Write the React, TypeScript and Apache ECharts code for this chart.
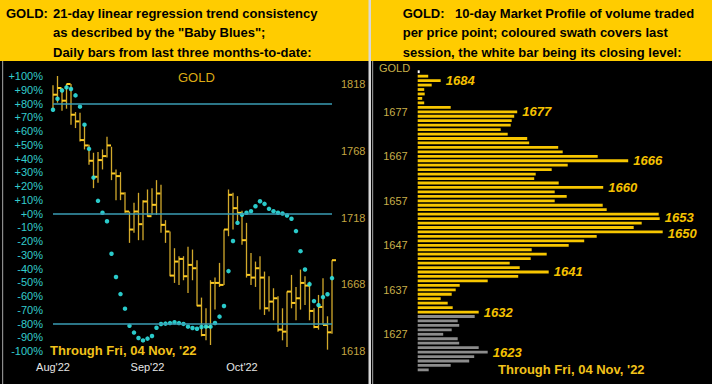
import React, { useEffect, useRef } from "react";
import * as echarts from "echarts";

// ---------- Left panel: daily bars (price) + "Baby Blues" trend consistency (%) ----------
const MONTH_TICKS: { index: number; label: string }[] = [
  { index: 0, label: "Aug'22" },
  { index: 21, label: "Sep'22" },
  { index: 42, label: "Oct'22" },
];

const HIGH = [
  1817, 1824, 1815, 1818, 1818, 1797, 1796.5, 1787.5, 1772.5, 1766.5,
  1767, 1769, 1778.5, 1771, 1754, 1752, 1737, 1722.5, 1729, 1736.5,
  1731, 1739, 1740, 1746, 1742.5, 1716, 1707.5, 1695, 1689, 1689,
  1696, 1694, 1686, 1658, 1650, 1671, 1673, 1684, 1709, 1739,
  1736.5, 1734, 1723, 1714, 1691.5, 1685, 1689, 1677.5, 1674, 1665,
  1659, 1650, 1662.5, 1675, 1666, 1679, 1674, 1670, 1650, 1660,
  1672.5, 1644, 1686,
];
const LOW = [
  1799, 1804, 1798, 1799.5, 1787.5, 1785, 1775, 1769, 1757.5, 1740,
  1744, 1754, 1763, 1746, 1731, 1731, 1721.5, 1699, 1706.5, 1701,
  1701, 1718.5, 1720, 1720, 1706.5, 1699, 1674, 1669, 1667.5, 1671,
  1661.5, 1671, 1651.5, 1629, 1626, 1622.5, 1649, 1666, 1667.5, 1704,
  1709, 1715, 1697.5, 1673, 1667.5, 1666, 1649, 1645, 1647.5, 1641,
  1632.5, 1626, 1621, 1650, 1641, 1649, 1652.5, 1641, 1635, 1634,
  1637.5, 1619, 1631,
];
const CLOSE = [
  1810, 1815, 1805.5, 1818, 1795, 1790, 1776, 1772, 1760.5, 1748.5,
  1761, 1764, 1772, 1751, 1749, 1736, 1722.5, 1709, 1722.5, 1713,
  1730, 1719, 1727.5, 1736, 1712.5, 1707.5, 1674.5, 1685, 1687, 1674,
  1682.5, 1680, 1652, 1630, 1636, 1669, 1669, 1667.5, 1709, 1735,
  1725, 1721.5, 1701, 1675, 1673, 1680, 1673, 1650, 1655, 1657.5,
  1634, 1632.5, 1662.5, 1654, 1657.5, 1669, 1667, 1648, 1636, 1651,
  1637.5, 1632, 1686,
];
const TREND = [
  75.5, 83.5, 89.5, 91.7, 90.5, 85.9, 77.7, 64.6, 47, 26.1,
  9.2, 0.5, -5.6, -29.3, -46.2, -58.6, -69.2, -81.7, -86.6, -90.5,
  -92.3, -91, -89.1, -83.1, -80.4, -80.1, -79.7, -79.1, -79.7, -80.3,
  -82.3, -83.3, -83.8, -82.5, -82.3, -82.3, -79.6, -75, -67.3, -41.9,
  -20, -6.8, -0.9, 0.5, 1.7, 5.3, 8.9, 7, 3.4, 1.7,
  0.5, 0, -1.5, -3.8, -12.8, -27.4, -40.7, -51.5, -63.7, -66.6,
  -60.8, -58.7, -47,
];
const TREND_LEVELS = [80, 0, -80];
const PRICE_BASE = 1618; // lowest price tick label
const PRICE_TOP = 1824;

// ---------- Right panel: 10-day market profile ----------
const PROFILE_TOP = 1686; // white bar: last session's close
const PROFILE_VOLUME = [
  2, 10.5, 23, 14, 6.5, 7, 4.5, 6.5, 33, 99.5,
  96.5, 94, 93, 83, 90, 109.5, 111.5, 140.5, 145, 180,
  210.5, 150, 134, 118, 116.5, 141, 185.5, 137, 149, 137,
  185, 189, 241, 242, 224, 216, 245, 179, 166.5, 151,
  114, 129, 113, 92, 102, 131, 100.5, 70, 42, 38,
  34, 23, 30, 35, 61, 57, 40, 41.5, 34, 25.5,
  40, 41.5, 61, 70, 56.5, 51.5, 33, 11,
];
const PROFILE_PRICES = PROFILE_VOLUME.map((_, i) => PROFILE_TOP - i);
const SESSION_LOW = 1632;
const SESSION_CLOSE = 1686;
const PEAK_LABELS = [1684, 1677, 1666, 1660, 1653, 1650, 1641, 1632, 1623];
const PEAK_NUDGE: Record<number, number> = { 1653: -1.5, 1650: 1.5 };

const DAYS = HIGH.map((_, i) => String(i));

const FONT = '"Liberation Sans", Arial, sans-serif';
const HEADER_FONT = 'bold 13px "Liberation Sans", Arial, sans-serif';

function txt(text: string, x: number, y: number, font: string, fill: string) {
  return {
    type: "text",
    x,
    y,
    silent: true,
    style: {
      text,
      font,
      fill,
      align: "left",
      textAlign: "left",
      verticalAlign: "middle",
      textVerticalAlign: "middle",
    },
  };
}

function buildOption() {
  const barData = HIGH.map((h, i) => [i, h - PRICE_BASE, LOW[i] - PRICE_BASE, CLOSE[i] - PRICE_BASE]);
  const monthMap: Record<number, string> = {};
  MONTH_TICKS.forEach((m) => (monthMap[m.index] = m.label));

  const profileData = PROFILE_PRICES.map((p, i) => {
    const color = p === SESSION_CLOSE ? "#ffffff" : p >= SESSION_LOW ? "#f7c600" : "#8c8c8c";
    const item: any = { value: PROFILE_VOLUME[i], itemStyle: { color } };
    if (PEAK_LABELS.includes(p)) {
      item.label = {
        show: true,
        position: "right",
        distance: 5,
        offset: [0, PEAK_NUDGE[p] ?? 0],
        formatter: String(p),
        color: "#f5c200",
        fontSize: 13,
        lineHeight: 11,
        fontWeight: "bold",
        fontStyle: "italic",
        fontFamily: FONT,
      };
    }
    return item;
  });

  const graphic: any[] = [
    { type: "rect", silent: true, shape: { x: 0, y: 0, width: 369, height: 61 }, style: { fill: "#ffcc00" } },
    { type: "rect", silent: true, shape: { x: 371, y: 0, width: 341, height: 61 }, style: { fill: "#ffcc00" } },
    { type: "rect", silent: true, shape: { x: 368.5, y: 0, width: 2.5, height: 384 }, style: { fill: "#d8d8d8" } },
    { type: "rect", silent: true, shape: { x: 2, y: 61, width: 1.2, height: 323 }, style: { fill: "#8c8c8c" } },
    { type: "rect", silent: true, shape: { x: 372, y: 61, width: 1.2, height: 323 }, style: { fill: "#8c8c8c" } },
    txt("GOLD:", 6, 13, HEADER_FONT, "#000"),
    txt("21-day linear regression trend consistency", 53, 13, HEADER_FONT, "#000"),
    txt('as described by the "Baby Blues";', 53, 32.5, HEADER_FONT, "#000"),
    txt("Daily bars from last three months-to-date:", 53, 52, HEADER_FONT, "#000"),
    txt("GOLD:", 402.7, 13, HEADER_FONT, "#000"),
    txt("10-day Market Profile of volume traded", 455, 13, HEADER_FONT, "#000"),
    txt("per price point; coloured swath covers last", 402.7, 32.5, HEADER_FONT, "#000"),
    txt("session, the white bar being its closing level:", 402.7, 52, HEADER_FONT, "#000"),
    txt("GOLD", 178, 77.7, `13px ${FONT}`, "#dcaa14"),
    txt("Through Fri, 04 Nov, '22", 50, 350, `bold 13px ${FONT}`, "#f2c21a"),
    txt("GOLD", 379, 68.3, `11px ${FONT}`, "#c8b04a"),
    txt("Through Fri, 04 Nov, '22", 498, 369, `bold 13px ${FONT}`, "#f2c21a"),
  ];

  return {
    animation: false,
    backgroundColor: "#000000",
    graphic,
    grid: [
      { left: 53, top: 76, width: 279, height: 275, outerBoundsMode: "none", containLabel: false },
      { left: 417.7, top: 69.5, width: 294.3, height: 302.6, outerBoundsMode: "none", containLabel: false },
    ],
    xAxis: [
      {
        type: "category",
        gridIndex: 0,
        data: DAYS,
        boundaryGap: false,
        axisLine: { show: false },
        axisTick: { show: false },
        splitLine: { show: false },
        axisLabel: {
          interval: 0,
          formatter: (_v: string, idx: number) => monthMap[idx] ?? "",
          color: "#e6e6e6",
          fontSize: 11,
          fontFamily: FONT,
          margin: 10,
        },
      },
      {
        type: "value",
        gridIndex: 1,
        min: 0,
        max: 294.3,
        show: false,
        splitLine: { show: false },
      },
    ],
    yAxis: [
      {
        type: "value",
        gridIndex: 0,
        position: "left",
        min: -100,
        max: 100,
        interval: 10,
        axisLine: { show: false },
        axisTick: { show: false },
        splitLine: { show: false },
        axisLabel: {
          formatter: (v: number) => (v >= 0 ? `+${v}%` : `${v}%`),
          color: "#33cccc",
          fontSize: 11,
          fontFamily: FONT,
          margin: 10,
        },
      },
      {
        type: "value",
        gridIndex: 0,
        position: "right",
        min: 0,
        max: PRICE_TOP - PRICE_BASE,
        interval: 50,
        axisLine: { show: false },
        axisTick: { show: false },
        splitLine: { show: false },
        axisLabel: {
          formatter: (v: number) => String(v + PRICE_BASE),
          showMaxLabel: false,
          color: "#c4a640",
          fontSize: 11,
          fontFamily: FONT,
          margin: 9,
        },
      },
      {
        type: "category",
        gridIndex: 1,
        data: PROFILE_PRICES.map(String),
        inverse: true,
        axisLine: { show: false },
        axisTick: { show: false },
        splitLine: { show: false },
        axisLabel: {
          interval: 0,
          formatter: (v: string) => ((Number(v) - 1627) % 10 === 0 ? v : ""),
          color: "#c8b04a",
          fontSize: 11,
          fontFamily: FONT,
          margin: 10,
        },
      },
    ],
    series: [
      {
        type: "custom",
        xAxisIndex: 0,
        yAxisIndex: 1,
        data: barData,
        encode: { x: 0, y: [1, 2, 3] },
        z: 3,
        renderItem: (_params: any, api: any) => {
          const i = api.value(0);
          const top = api.coord([i, api.value(1)]);
          const bot = api.coord([i, api.value(2)]);
          const cl = api.coord([i, api.value(3)]);
          return {
            type: "group",
            children: [
              {
                type: "line",
                shape: { x1: top[0], y1: top[1], x2: bot[0], y2: bot[1] },
                style: { stroke: "#d2a92c", lineWidth: 1.3 },
              },
              {
                type: "line",
                shape: { x1: cl[0], y1: cl[1], x2: cl[0] + 4, y2: cl[1] },
                style: { stroke: "#ffcc22", lineWidth: 2 },
              },
            ],
          };
        },
      },
      {
        type: "scatter",
        xAxisIndex: 0,
        yAxisIndex: 0,
        data: TREND.map((v, i) => [i, v]),
        symbol: "circle",
        symbolSize: 4.5,
        itemStyle: { color: "#2fe0e0", opacity: 0.9 },
        z: 4,
        markLine: {
          silent: true,
          symbol: "none",
          label: { show: false },
          lineStyle: { color: "#3a9db5", width: 1.5, type: "solid" },
          data: TREND_LEVELS.map((v) => ({ yAxis: v })),
        },
      },
      {
        type: "bar",
        xAxisIndex: 1,
        yAxisIndex: 2,
        data: profileData,
        barWidth: 2.8,
      },
    ],
  };
}

export default function App() {
  const ref = useRef<HTMLDivElement>(null);
  useEffect(() => {
    document.body.style.margin = "0";
    const chart = echarts.init(ref.current!, null, { renderer: "svg", width: 712, height: 384 });
    chart.setOption(buildOption() as any);
    return () => chart.dispose();
  }, []);
  return <div ref={ref} style={{ width: 712, height: 384 }} />;
}
